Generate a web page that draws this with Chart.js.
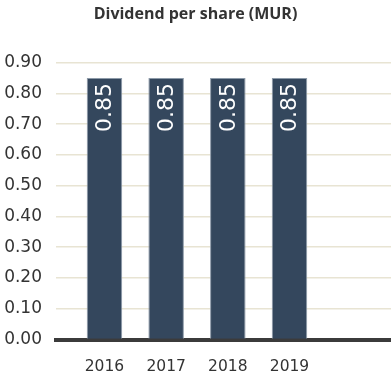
<!DOCTYPE html>
<html>
<head>
<meta charset="utf-8">
<script src="https://cdn.jsdelivr.net/npm/chart.js@4/dist/chart.umd.min.js"></script>
<style>
  body { margin: 0; background: #fff; }
  #wrap { width: 391px; height: 374px; }
</style>
</head>
<body>
<div id="wrap"><canvas id="chartDividend"></canvas></div>
<script>
// Dati del grafico
const YEARS  = [2016, 2017, 2018, 2019];
const VALUES = [0.85, 0.85, 0.85, 0.85];
const Y_TICKS = [0, 0.1, 0.2, 0.3, 0.4, 0.5, 0.6, 0.7, 0.8, 0.9];

// Colori
const BAR_NAVY  = '#34475d';
const GRID_BEIGE = '#e8e4d3';
const TEXT_DARK = '#333333';
const AXIS_DARK = '#3b3b3b';

// Etichette ruotate dentro le barre
const barLabels = {
    id: 'barLabels',
    afterDatasetsDraw(chart) {
        const ctx = chart.ctx;
        chart.getDatasetMeta(0).data.forEach((bar, i) => {
            ctx.save();
            ctx.translate(bar.x, bar.y);
            ctx.rotate(-Math.PI / 2);
            ctx.fillStyle = '#ffffff';
            ctx.font = '22px "DejaVu Sans"';
            ctx.textAlign = 'right';
            ctx.textBaseline = 'middle';
            ctx.fillText(VALUES[i].toFixed(2), -5, 1);
            ctx.restore();
        });
    }
};

new Chart(document.getElementById('chartDividend'), {
    type: 'bar',
    data: {
        datasets: [{
            data: YEARS.map((y, i) => ({ x: y, y: VALUES[i] })),
            backgroundColor: BAR_NAVY,
            borderColor: '#8d9aa8',
            borderWidth: 1,
            borderSkipped: 'bottom',
            barPercentage: 0.9,
            categoryPercentage: 0.64
        }]
    },
    plugins: [barLabels],
    options: {
        responsive: true,
        maintainAspectRatio: false,
        animation: false,
        layout: { padding: { left: 0, right: 0, top: 0, bottom: 0 } },
        plugins: {
            legend: { display: false },
            tooltip: { enabled: false },
            title: {
                display: true,
                text: 'Dividend per share (MUR)',
                color: TEXT_DARK,
                font: { family: '"Open Sans"', size: 16, weight: 'bold' },
                padding: { top: 5, bottom: 38.5 }
            }
        },
        scales: {
            x: {
                type: 'linear',
                offset: false,
                min: 2015.214,
                max: 2020.646,
                afterBuildTicks: scale => { scale.ticks = YEARS.map(v => ({ value: v })); },
                afterFit: scale => { scale.height = 34.5; },
                grid: { display: false },
                border: { display: true, color: AXIS_DARK, width: 4 },
                ticks: {
                    color: TEXT_DARK,
                    font: { family: '"DejaVu Sans"', size: 15.5 },
                    padding: 10,
                    callback: v => String(v)
                }
            },
            y: {
                min: 0,
                max: 0.9,
                afterBuildTicks: scale => { scale.ticks = Y_TICKS.map(v => ({ value: v })); },
                afterFit: scale => { scale.width = 56; },
                grid: { color: GRID_BEIGE, lineWidth: 1.5, drawTicks: false },
                border: { display: false },
                ticks: {
                    color: TEXT_DARK,
                    font: { family: '"DejaVu Sans"', size: 17 },
                    padding: 14,
                    callback: v => v.toFixed(2)
                }
            }
        }
    }
});
</script>
</body>
</html>
